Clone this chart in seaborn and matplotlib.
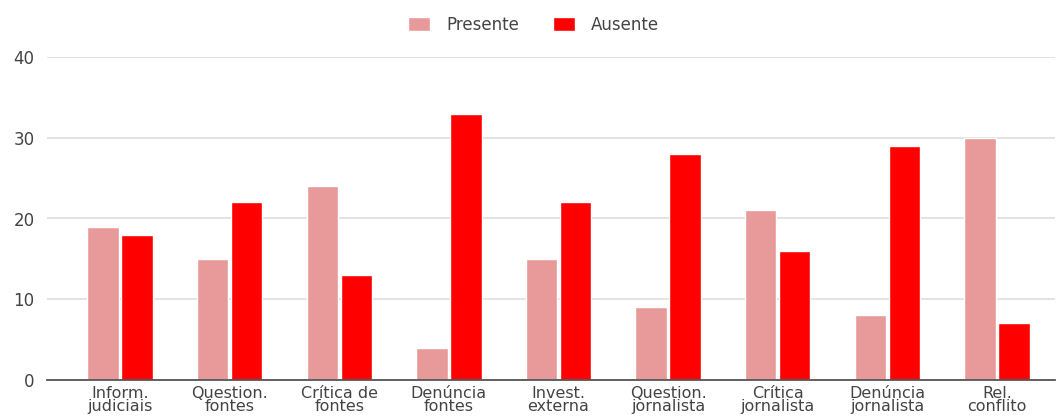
import matplotlib
matplotlib.use("Agg")
import matplotlib.pyplot as plt
import seaborn as sns
import pandas as pd

categories = ["Inform.\njudiciais", "Question.\nfontes", "Crítica de\nfontes", "Denúncia\nfontes",
              "Invest.\nexterna", "Question.\njornalista", "Crítica\njornalista",
              "Denúncia\njornalista", "Rel.\nconflito"]
presente = [19, 15, 24, 4, 15, 9, 21, 8, 30]
ausente = [18, 22, 13, 33, 22, 28, 16, 29, 7]
series_names = ["Presente", "Ausente"]
y_ticks = [0, 10, 20, 30, 40]

df = pd.DataFrame({
    "cat": categories * 2,
    "serie": [series_names[0]] * len(categories) + [series_names[1]] * len(categories),
    "valor": presente + ausente,
})

sns.set_theme(style="white")
plt.rcParams["font.family"] = ["DejaVu Sans"]

fig = plt.figure(figsize=(10.57, 4.19), dpi=100)
ax = fig.add_axes([47 / 1057, 1 - 380 / 419, 1008 / 1057, 323 / 419])

sns.barplot(data=df, x="cat", y="valor", hue="serie", order=categories,
            hue_order=series_names, palette=["#e89a9a", "#ff0000"],
            width=0.62, gap=0.075, saturation=1, ax=ax, legend=True)

ax.set_ylim(0, 40)
ax.set_yticks(y_ticks)
ax.set_xlim(-0.666, 8.53)
ax.yaxis.grid(True, color="#dedede", linewidth=1.2)
ax.set_axisbelow(True)
for s in ["top", "right", "left"]:
    ax.spines[s].set_visible(False)
ax.spines["bottom"].set_color("#555555")
ax.spines["bottom"].set_linewidth(1.3)
ax.set_xlabel("")
ax.set_ylabel("")
ax.tick_params(axis="y", length=0, labelsize=12, colors="#444444", pad=9)
ax.tick_params(axis="x", length=0, labelsize=11.5, colors="#444444", pad=4)
for lbl in ax.get_xticklabels():
    lbl.set_linespacing(0.86)

handles, labels = ax.get_legend_handles_labels()
ax.legend(handles, labels, loc="center", bbox_to_anchor=(0.483, 1.099), ncol=2,
          frameon=False, fontsize=12, labelcolor="#444444", handlelength=1.3,
          handleheight=0.9, columnspacing=2.0, handletextpad=1.0,
          borderpad=0, borderaxespad=0)

fig.savefig("out.png", dpi=100)
